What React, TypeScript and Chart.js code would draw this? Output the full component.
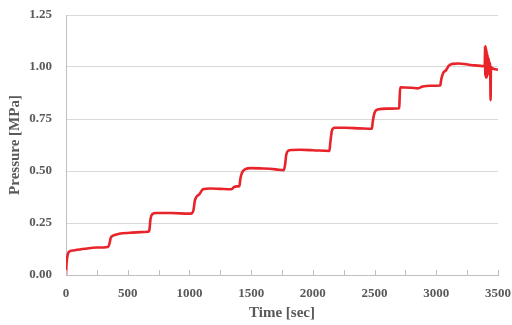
import React, { useEffect, useRef } from "react";
import { Chart, registerables } from "chart.js";

Chart.register(...registerables);

const timeSec: number[] = [
  0, 5, 15, 25, 60, 150, 250, 340, 352, 362, 385, 430, 520, 600, 665, 675, 685, 700, 730, 850, 1000, 1020,
  1032, 1045, 1060, 1080, 1110, 1170, 1250, 1340, 1360, 1380, 1405, 1412, 1425, 1450, 1500, 1600, 1700, 1765,
  1775, 1785, 1810, 1900, 2000, 2134, 2142, 2155, 2175, 2260, 2380, 2478, 2486, 2500, 2525, 2600, 2700, 2703,
  2708, 2800, 2850, 2890, 2950, 3032, 3040, 3055, 3080, 3100, 3130, 3180, 3280, 3393,
  3395, 3397, 3399, 3401, 3403, 3405, 3407, 3409, 3411, 3413, 3415, 3417, 3419, 3422, 3425, 3430, 3436, 3440, 3443,
  3450, 3470, 3500,
];
const pressureMPa: number[] = [
  0.0, 0.06, 0.1, 0.112, 0.118, 0.126, 0.132, 0.135, 0.15, 0.178, 0.19, 0.198, 0.203, 0.206, 0.208, 0.215, 0.27,
  0.293, 0.298, 0.298, 0.295, 0.297, 0.31, 0.36, 0.378, 0.388, 0.412, 0.416, 0.414, 0.412, 0.422, 0.426, 0.427,
  0.46, 0.49, 0.508, 0.514, 0.512, 0.508, 0.504, 0.53, 0.58, 0.6, 0.602, 0.6, 0.596, 0.64, 0.695, 0.708, 0.708,
  0.705, 0.703, 0.74, 0.78, 0.796, 0.8, 0.802, 0.85, 0.903, 0.9, 0.897, 0.906, 0.91, 0.911, 0.94, 0.97, 0.985,
  1.005, 1.015, 1.017, 1.01, 1.004,
  1.1, 0.96, 1.1, 0.95, 1.09, 0.96, 1.08, 0.95, 1.07, 0.97, 1.06, 0.96, 1.05, 0.98, 1.04, 0.99, 1.02, 0.84, 1.0,
  0.995, 0.99, 0.987,
];
const xTickStep = 250;
const xLabelStep = 500;
const yTicks: number[] = [0, 0.25, 0.5, 0.75, 1.0, 1.25];

const tickColor = "#595959";
const gridColor = "#d9d9d9";
const lineColor = "#e8232a";

const inwardTicks = {
  id: "inwardTicks",
  afterDraw(chart: any) {
    const x = chart.scales.x;
    const ctx = chart.ctx;
    const bottom = chart.chartArea.bottom;
    ctx.save();
    ctx.strokeStyle = "#bfbfbf";
    ctx.lineWidth = 1;
    x.ticks.forEach((t: any) => {
      const px = Math.round(x.getPixelForValue(t.value)) + 0.5;
      ctx.beginPath();
      ctx.moveTo(px, bottom);
      ctx.lineTo(px, bottom - 5);
      ctx.stroke();
    });
    ctx.restore();
  },
};

export default function App() {
  const ref = useRef<HTMLCanvasElement | null>(null);
  useEffect(() => {
    if (!ref.current) return;
    const data = timeSec.map((t, i) => ({ x: t, y: pressureMPa[i] }));
    const chart = new Chart(ref.current, {
      type: "line",
      data: {
        datasets: [
          {
            data,
            borderColor: lineColor,
            borderWidth: 2.6,
            pointRadius: 0,
            cubicInterpolationMode: "monotone",
            tension: 0.2,
            fill: false,
          },
        ],
      },
      plugins: [inwardTicks],
      options: {
        animation: false,
        responsive: false,
        maintainAspectRatio: false,
        layout: { padding: { top: 15, right: 14, left: 0, bottom: 0 } },
        plugins: { legend: { display: false }, tooltip: { enabled: false } },
        scales: {
          x: {
            type: "linear",
            min: 0,
            max: 3500,
            afterFit: (s: any) => {
              s.height = 50;
              s.paddingLeft = 0;
              s.paddingRight = 0;
            },
            afterBuildTicks: (s: any) => {
              const arr = [];
              for (let v = 0; v <= 3500; v += xTickStep) arr.push({ value: v });
              s.ticks = arr;
            },
            ticks: {
              autoSkip: false,
              maxRotation: 0,
              color: tickColor,
              padding: 11,
              font: { family: "Liberation Serif", size: 13, weight: "bold" },
              callback: (v: any) => (Number(v) % xLabelStep === 0 ? String(v) : ""),
            },
            grid: { display: false, drawTicks: false },
            border: { display: true, color: "#bfbfbf", width: 1 },
            title: {
              display: true,
              text: "Time [sec]",
              color: tickColor,
              padding: { top: 0, bottom: 3 },
              font: { family: "Liberation Serif", size: 15, weight: "bold" },
            },
          },
          y: {
            min: 0,
            max: 1.25,
            afterFit: (s: any) => {
              s.width = 66;
              s.paddingTop = 0;
              s.paddingBottom = 0;
            },
            afterBuildTicks: (s: any) => {
              s.ticks = yTicks.map((v) => ({ value: v }));
            },
            ticks: {
              color: tickColor,
              padding: 14,
              font: { family: "Liberation Serif", size: 13, weight: "bold" },
              callback: (v: any) => Number(v).toFixed(2),
            },
            grid: { color: gridColor, lineWidth: 1, drawTicks: false },
            border: { display: true, color: "#bfbfbf", width: 1 },
            title: {
              display: true,
              text: "Pressure [MPa]",
              color: tickColor,
              padding: { top: 6, bottom: 0 },
              font: { family: "Liberation Serif", size: 15, weight: "bold" },
            },
          },
        },
      },
    });
    return () => chart.destroy();
  }, []);
  return (
    <div style={{ position: "fixed", left: 0, top: 0, width: 512, height: 325, background: "#fff" }}>
      <canvas ref={ref} width={512} height={325} style={{ width: 512, height: 325 }} />
    </div>
  );
}
